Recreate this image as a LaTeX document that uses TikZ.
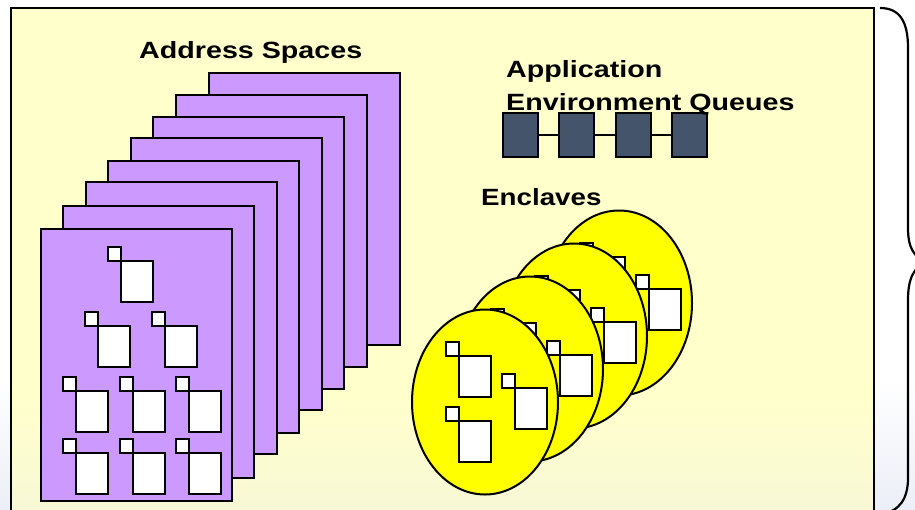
\documentclass[tikz,border=0pt]{standalone}
\usepackage{fontspec}
\setmainfont{Liberation Sans}
\usepackage{graphicx}
\definecolor{bgyellow}{HTML}{FFFFCC}
\definecolor{bgyellowlow}{HTML}{F8F8D6}
\definecolor{bgblue}{HTML}{ECEFF7}
\definecolor{aspurple}{HTML}{CC99FF}
\definecolor{encyellow}{HTML}{FFFF00}
\definecolor{qslate}{HTML}{44546A}
\newcommand\wpair[2]{%
  \draw[wbox] (#1+13,#2+14) rectangle ++(32,41);
  \draw[wbox] (#1,#2) rectangle ++(13,14);}
\begin{document}
\begin{tikzpicture}[x=1pt,y=-1pt,
  asp/.style={draw=black,line width=2.2pt,fill=aspurple},
  wbox/.style={draw=black,line width=2pt,fill=white},
  ell/.style={draw=black,line width=2pt,fill=encyellow},
  qbox/.style={draw=black,line width=1.2pt,fill=qslate,minimum width=35pt,minimum height=44pt,inner sep=0pt,outer sep=0pt},
  qlink/.style={draw=black,line width=1.5pt},
  lbl/.style={inner sep=0pt,anchor=base west,font=\fontsize{23.5}{27}\selectfont\bfseries},
  brace/.style={draw=black,line width=2.2pt}]
\useasboundingbox (0,0) rectangle (915,509);
\clip (0,0) rectangle (915,509);
% page background
\fill[white] (0,0) rectangle (915,509);
\shade[top color=white,bottom color=bgblue] (0,380) rectangle (915,509);
% main panel
\fill[bgyellow] (11,8) rectangle (874,530);
\shade[top color=bgyellow,bottom color=bgyellowlow] (11,400) rectangle (874,509);
\draw[black,line width=2pt] (11,530) -- (11,8) -- (874,8) -- (874,530);
% right brace
\draw[brace] (880,8) .. controls (900,8) and (908,22) .. (908,48) -- (908,228)
  .. controls (908,248) and (914,258) .. (928,262)
  .. controls (914,266) and (908,278) .. (908,300) -- (908,478)
  .. controls (908,498) and (900,512) .. (880,514);
% address spaces
\foreach \x/\y in {209/73,176/95,153/117,131/138,108/161,86/182,63/206,41/229}
  \draw[asp] (\x,\y) rectangle ++(191,272);
\wpair{108}{247}
\wpair{85}{312}\wpair{152}{312}
\wpair{63}{377}\wpair{120}{377}\wpair{176}{377}
\wpair{63}{439}\wpair{120}{439}\wpair{176}{439}
% enclaves
\foreach \cx/\cy in {619/303,574/336,530/369,485/402}{
  \draw[ell] (\cx,\cy) ellipse [x radius=73,y radius=92.5];
  \wpair{\cx-39}{\cy-60}
  \wpair{\cx+17}{\cy-28}
  \wpair{\cx-39}{\cy+5}
}
% queues
\node[qbox] (q1) at (520.5,135) {};
\node[qbox] (q2) at (576.5,135) {};
\node[qbox] (q3) at (633.5,135) {};
\node[qbox] (q4) at (689.5,135) {};
\draw[qlink] (q1.east) -- (q2.west);
\draw[qlink] (q2.east) -- (q3.west);
\draw[qlink] (q3.east) -- (q4.west);
% labels
\node[lbl] (aslbl) at (139,58) {\scalebox{1.22}[1]{Address Spaces}};
\node[lbl] (app1) at (506,77) {\scalebox{1.22}[1]{Application}};
\node[lbl] (app2) at (506,110) {\scalebox{1.22}[1]{Environment Queues}};
\node[lbl] (enc) at (481,205) {\scalebox{1.18}[1]{Enclaves}};
\end{tikzpicture}
\end{document}
